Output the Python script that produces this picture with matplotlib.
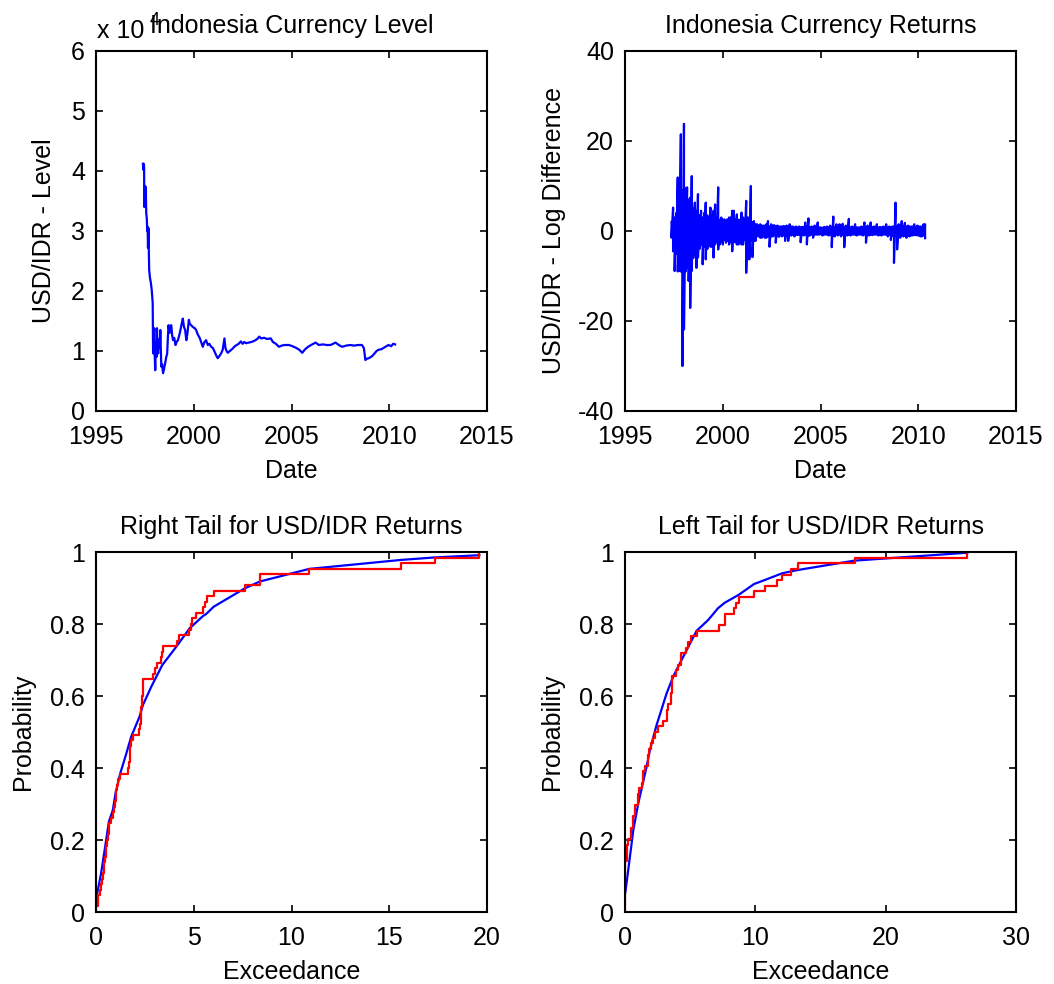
import numpy as np
import matplotlib
matplotlib.use('Agg')
import matplotlib.pyplot as plt
from matplotlib.ticker import FuncFormatter

plt.rcParams['font.family'] = ['Liberation Sans', 'DejaVu Sans']
plt.rcParams['axes.unicode_minus'] = False
plt.rcParams['font.size'] = 18

# USD/IDR level, in units of 1e4
level_year = [1997.40, 1997.42, 1997.44, 1997.46, 1997.47, 1997.49, 1997.51, 1997.53, 1997.55, 1997.57,
              1997.60, 1997.62, 1997.64, 1997.66, 1997.68, 1997.70, 1997.72, 1997.76, 1997.80, 1997.85,
              1997.90, 1997.92, 1997.95, 1997.98, 1998.00, 1998.03, 1998.06, 1998.09, 1998.12, 1998.15,
              1998.18, 1998.22, 1998.26, 1998.29, 1998.32, 1998.34, 1998.38, 1998.43, 1998.48, 1998.54,
              1998.60, 1998.64, 1998.68, 1998.71, 1998.76, 1998.80, 1998.85, 1998.90, 1998.94, 1999.00,
              1999.07, 1999.12, 1999.19, 1999.25, 1999.32, 1999.38, 1999.44, 1999.50, 1999.56, 1999.62,
              1999.68, 1999.75, 1999.80, 1999.87, 1999.95, 2000.05, 2000.12, 2000.20, 2000.30, 2000.38,
              2000.46, 2000.55, 2000.63, 2000.72, 2000.80, 2000.89, 2000.98, 2001.08, 2001.16, 2001.23,
              2001.32, 2001.40, 2001.48, 2001.53, 2001.57, 2001.62, 2001.68, 2001.74, 2001.85, 2001.99,
              2002.10, 2002.20, 2002.30, 2002.41, 2002.50, 2002.58, 2002.67, 2002.80, 2002.95, 2003.10,
              2003.25, 2003.35, 2003.45, 2003.60, 2003.75, 2003.94, 2004.05, 2004.20, 2004.36, 2004.50,
              2004.65, 2004.87, 2005.05, 2005.25, 2005.40, 2005.55, 2005.70, 2005.85, 2006.00, 2006.23,
              2006.40, 2006.60, 2006.80, 2007.00, 2007.25, 2007.42, 2007.59, 2007.80, 2008.00, 2008.20,
              2008.40, 2008.60, 2008.70, 2008.75, 2008.78, 2008.85, 2008.95, 2009.11, 2009.25, 2009.35,
              2009.45, 2009.60, 2009.75, 2009.96, 2010.10, 2010.20, 2010.30]
level_val = [4.12, 4.02, 4.12, 4.08, 3.40, 3.75, 3.42, 3.74, 3.65, 3.30,
             3.20, 3.00, 3.07, 2.72, 3.05, 2.70, 2.35, 2.22, 2.15, 2.02,
             1.80, 0.96, 1.15, 1.38, 0.95, 0.68, 1.10, 0.90, 1.38, 1.00,
             0.96, 1.20, 1.05, 1.35, 0.95, 0.74, 0.78, 0.63, 0.70, 0.80,
             0.91, 0.95, 1.25, 1.43, 1.30, 1.42, 1.43, 1.25, 1.18, 1.22,
             1.10, 1.15, 1.18, 1.25, 1.35, 1.45, 1.54, 1.40, 1.35, 1.18,
             1.30, 1.52, 1.45, 1.43, 1.40, 1.38, 1.35, 1.28, 1.22, 1.15,
             1.07, 1.15, 1.18, 1.10, 1.12, 1.07, 1.05, 0.98, 0.92, 0.88,
             0.92, 0.96, 1.02, 1.12, 1.21, 1.05, 1.00, 0.97, 1.00, 1.04,
             1.08, 1.10, 1.12, 1.16, 1.12, 1.15, 1.13, 1.14, 1.15, 1.17,
             1.20, 1.24, 1.21, 1.22, 1.20, 1.21, 1.15, 1.12, 1.07, 1.09,
             1.10, 1.10, 1.08, 1.05, 1.02, 0.97, 1.03, 1.07, 1.10, 1.14,
             1.10, 1.11, 1.10, 1.10, 1.14, 1.10, 1.07, 1.09, 1.10, 1.09,
             1.10, 1.10, 1.05, 0.92, 0.85, 0.87, 0.88, 0.91, 0.96, 1.00,
             1.02, 1.03, 1.06, 1.10, 1.08, 1.12, 1.11]

# log-difference returns (x100): high and low of each sampling bin,
# bins evenly spaced between the first and last date
ret_start, ret_end = 1997.38, 2010.35
ret_hi = [2.0, 5.2, 3.0, 4.0, 11.9, 4.0, 21.5, 9.0, 23.8, 9.5,
          9.7, 7.0, 7.4, 12.2, 5.0, 6.3, 4.5, 8.2, 3.5, 4.5,
          3.0, 4.0, 6.3, 3.5, 3.0, 5.2, 3.5, 4.5, 5.9, 3.0,
          9.7, 2.5, 3.0, 2.5, 2.6, 2.0, 2.6, 3.0, 3.0, 4.5,
          4.5, 2.5, 3.7, 2.5, 2.5, 4.1, 3.0, 2.5, 6.7, 3.0,
          3.0, 10.0, 2.0, 2.2, 1.5, 1.5, 1.2, 1.5, 1.2, 1.2,
          1.2, 1.5, 2.2, 1.0, 1.5, 1.2, 1.3, 1.0, 1.2, 1.0,
          1.0, 1.0, 1.1, 1.0, 1.2, 1.0, 1.5, 1.0, 1.0, 0.8,
          1.0, 0.8, 1.0, 0.8, 0.9, 0.8, 1.9, 1.0, 2.8, 0.8,
          1.0, 0.8, 1.2, 0.8, 1.9, 0.8, 0.8, 0.7, 0.9, 0.8,
          1.0, 0.8, 1.2, 0.8, 3.2, 0.8, 1.5, 0.8, 1.5, 0.8,
          1.6, 0.8, 1.2, 0.8, 2.7, 0.8, 1.0, 0.8, 1.5, 0.8,
          0.8, 0.8, 1.0, 0.8, 1.9, 0.8, 1.2, 0.8, 1.9, 0.8,
          1.0, 0.8, 1.5, 0.8, 0.9, 0.8, 1.0, 0.8, 1.5, 0.8,
          1.0, 0.8, 1.0, 1.0, 6.3, 1.0, 1.5, 1.0, 2.2, 1.0,
          1.8, 1.0, 1.2, 1.0, 1.0, 1.0, 1.5, 0.9, 1.2, 1.0,
          1.0, 1.0, 1.5, 1.5]
ret_lo = [-1.5, -4.5, -8.9, -5.0, -9.0, -8.9, -9.0, -30.0, -21.9, -9.0,
          -8.2, -11.1, -17.1, -8.9, -6.0, -5.0, -8.2, -5.9, -4.0, -3.0,
          -7.4, -3.5, -6.3, -4.0, -3.0, -3.5, -3.5, -5.9, -3.0, -2.5,
          -4.1, -3.0, -2.5, -3.0, -2.0, -2.6, -2.2, -3.0, -2.5, -4.5,
          -2.5, -2.5, -3.0, -3.0, -2.0, -3.0, -3.0, -2.0, -9.3, -2.5,
          -6.3, -2.2, -5.8, -2.2, -2.2, -1.2, -1.2, -1.5, -1.5, -1.2,
          -1.5, -1.5, -1.2, -3.5, -1.2, -1.2, -1.0, -2.6, -1.0, -1.3,
          -1.0, -1.2, -1.0, -2.2, -1.0, -2.2, -1.0, -1.0, -0.8, -1.2,
          -0.8, -0.9, -0.8, -2.5, -0.8, -1.0, -0.8, -3.0, -1.0, -1.0,
          -0.8, -1.5, -0.8, -0.8, -0.8, -0.8, -0.7, -1.0, -0.8, -0.8,
          -0.8, -1.0, -0.8, -3.6, -1.0, -1.2, -0.8, -1.0, -0.8, -1.2,
          -0.8, -3.6, -0.8, -1.0, -0.8, -1.0, -0.8, -0.8, -0.8, -1.0,
          -0.8, -0.8, -0.8, -1.0, -0.8, -2.6, -0.8, -1.0, -0.8, -0.9,
          -0.8, -0.8, -0.8, -1.0, -0.8, -1.0, -0.8, -0.8, -0.8, -1.2,
          -0.8, -2.0, -1.0, -7.1, -1.0, -4.1, -1.0, -1.5, -1.0, -1.2,
          -1.0, -1.5, -1.0, -1.2, -1.0, -1.0, -0.9, -0.9, -1.0, -1.0,
          -1.2, -1.2, -1.0, -1.6]

# exceedances over the threshold, right and left tails
right_exc = [0.02, 0.08, 0.12, 0.22, 0.28, 0.33, 0.36, 0.40, 0.42, 0.46,
             0.50, 0.53, 0.58, 0.62, 0.66, 0.69, 0.78, 0.85, 0.93, 0.96,
             1.00, 1.03, 1.08, 1.15, 1.24, 1.66, 1.70, 1.72, 1.74, 1.76,
             1.80, 1.88, 2.22, 2.26, 2.28, 2.30, 2.32, 2.34, 2.36, 2.38,
             2.40, 2.42, 2.92, 3.00, 3.13, 3.30, 3.38, 3.45, 4.14, 4.22,
             4.78, 4.85, 4.90, 5.10, 5.45, 5.60, 5.70, 6.02, 7.62, 8.38,
             8.40, 10.90, 15.60, 17.35, 19.61]
left_exc = [0.00, 0.00, 0.00, 0.01, 0.01, 0.01, 0.02, 0.02, 0.03, 0.13,
            0.13, 0.14, 0.26, 0.43, 0.44, 0.59, 0.60, 0.77, 0.78, 0.97,
            0.98, 1.07, 1.28, 1.40, 1.41, 1.53, 1.79, 1.80, 1.81, 1.99,
            2.16, 2.29, 2.50, 2.88, 3.19, 3.20, 3.32, 3.52, 3.53, 3.62,
            3.63, 3.64, 3.95, 4.03, 4.26, 4.27, 4.67, 4.85, 5.10, 5.49,
            7.19, 7.65, 7.66, 8.37, 8.55, 8.72, 9.90, 10.71, 11.66, 12.07,
            12.70, 13.26, 17.67, 26.27]

# fitted generalized Pareto CDF
gpd_right_x = [0.00, 0.26, 0.43, 0.66, 0.86, 1.00, 1.24, 1.55, 1.80, 2.23, 2.40, 2.83,
               3.39, 4.11, 4.79, 5.47, 5.64, 6.02, 7.61, 8.38, 10.90, 15.60, 17.35, 19.61]
gpd_right_y = [0.035, 0.107, 0.168, 0.251, 0.283, 0.330, 0.385, 0.440, 0.487, 0.543, 0.575, 0.626,
               0.686, 0.737, 0.788, 0.822, 0.828, 0.848, 0.899, 0.918, 0.953, 0.978, 0.985, 0.991]
gpd_left_x = [0.00, 0.05, 0.38, 0.64, 1.02, 1.66, 1.91, 2.42, 3.19, 3.70, 4.34, 5.49,
              6.38, 7.14, 7.65, 8.72, 9.90, 10.71, 12.07, 13.26, 17.60, 26.27]
gpd_left_y = [0.050, 0.061, 0.154, 0.228, 0.302, 0.404, 0.450, 0.519, 0.607, 0.654, 0.700, 0.781,
              0.811, 0.844, 0.859, 0.881, 0.911, 0.922, 0.941, 0.950, 0.976, 0.998]

LW = 1.6


def style_axes(ax):
    for s in ax.spines.values():
        s.set_linewidth(1.5)
    ax.tick_params(direction='in', top=True, right=True, length=5, width=1.2, labelsize=18)
    ax.tick_params(axis='x', pad=10)
    ax.tick_params(axis='y', pad=8)


def ecdf_steps(vals):
    x = np.sort(np.asarray(vals))
    n = len(x)
    xs = np.concatenate([[x[0]], x])
    fs = np.arange(n + 1) / n
    return xs, fs


fmt_g = FuncFormatter(lambda v, p: '%g' % v)

fig = plt.figure(figsize=(10.54, 9.84), dpi=100)
left1, left2, w = 96 / 1054, 625 / 1054, 391 / 1054
top_b, bot_b, h = 1 - 411 / 984, 1 - 912 / 984, 360 / 984

# level
ax1 = fig.add_axes([left1, top_b, w, h])
ax1.plot(level_year, level_val, color='b', lw=LW)
ax1.set_xlim(1995, 2015)
ax1.set_ylim(0, 6)
ax1.set_xticks([1995, 2000, 2005, 2010, 2015])
ax1.set_yticks(range(0, 7))
ax1.set_xlabel('Date', labelpad=7)
ax1.set_ylabel('USD/IDR - Level', labelpad=11)
ax1.set_title('Indonesia Currency Level', fontsize=18, pad=13)
ax1.text(0.003, 1.036, 'x 10', transform=ax1.transAxes, ha='left', va='baseline', fontsize=18)
ax1.text(0.138, 1.072, '4', transform=ax1.transAxes, ha='left', va='baseline', fontsize=13)
style_axes(ax1)

# returns: each bin drawn as a stroke from its high to its low
ax2 = fig.add_axes([left2, top_b, w, h])
ret_dates = np.linspace(ret_start, ret_end, len(ret_hi))
path_x = np.repeat(ret_dates, 2)
path_y = np.column_stack([ret_hi, ret_lo]).ravel()
ax2.plot(path_x, path_y, color='b', lw=LW)
ax2.set_xlim(1995, 2015)
ax2.set_ylim(-40, 40)
ax2.set_xticks([1995, 2000, 2005, 2010, 2015])
ax2.set_yticks([-40, -20, 0, 20, 40])
ax2.set_xlabel('Date', labelpad=7)
ax2.set_ylabel('USD/IDR - Log Difference', labelpad=8)
ax2.set_title('Indonesia Currency Returns', fontsize=18, pad=13)
style_axes(ax2)

# right tail
ax3 = fig.add_axes([left1, bot_b, w, h])
ax3.plot(gpd_right_x, gpd_right_y, color='b', lw=LW)
xs, fs = ecdf_steps(right_exc)
ax3.plot(xs, fs, color='r', lw=LW, drawstyle='steps-post')
ax3.set_xlim(0, 20)
ax3.set_ylim(0, 1)
ax3.set_xticks([0, 5, 10, 15, 20])
ax3.set_yticks([0, 0.2, 0.4, 0.6, 0.8, 1])
ax3.yaxis.set_major_formatter(fmt_g)
ax3.set_xlabel('Exceedance', labelpad=7)
ax3.set_ylabel('Probability', labelpad=11)
ax3.set_title('Right Tail for USD/IDR Returns', fontsize=18, pad=13)
style_axes(ax3)

# left tail
ax4 = fig.add_axes([left2, bot_b, w, h])
ax4.plot(gpd_left_x, gpd_left_y, color='b', lw=LW)
xs, fs = ecdf_steps(left_exc)
ax4.plot(xs, fs, color='r', lw=LW, drawstyle='steps-post')
ax4.set_xlim(0, 30)
ax4.set_ylim(0, 1)
ax4.set_xticks([0, 10, 20, 30])
ax4.set_yticks([0, 0.2, 0.4, 0.6, 0.8, 1])
ax4.yaxis.set_major_formatter(fmt_g)
ax4.set_xlabel('Exceedance', labelpad=7)
ax4.set_ylabel('Probability', labelpad=11)
ax4.set_title('Left Tail for USD/IDR Returns', fontsize=18, pad=13)
style_axes(ax4)

fig.savefig('out.png', dpi=100)
